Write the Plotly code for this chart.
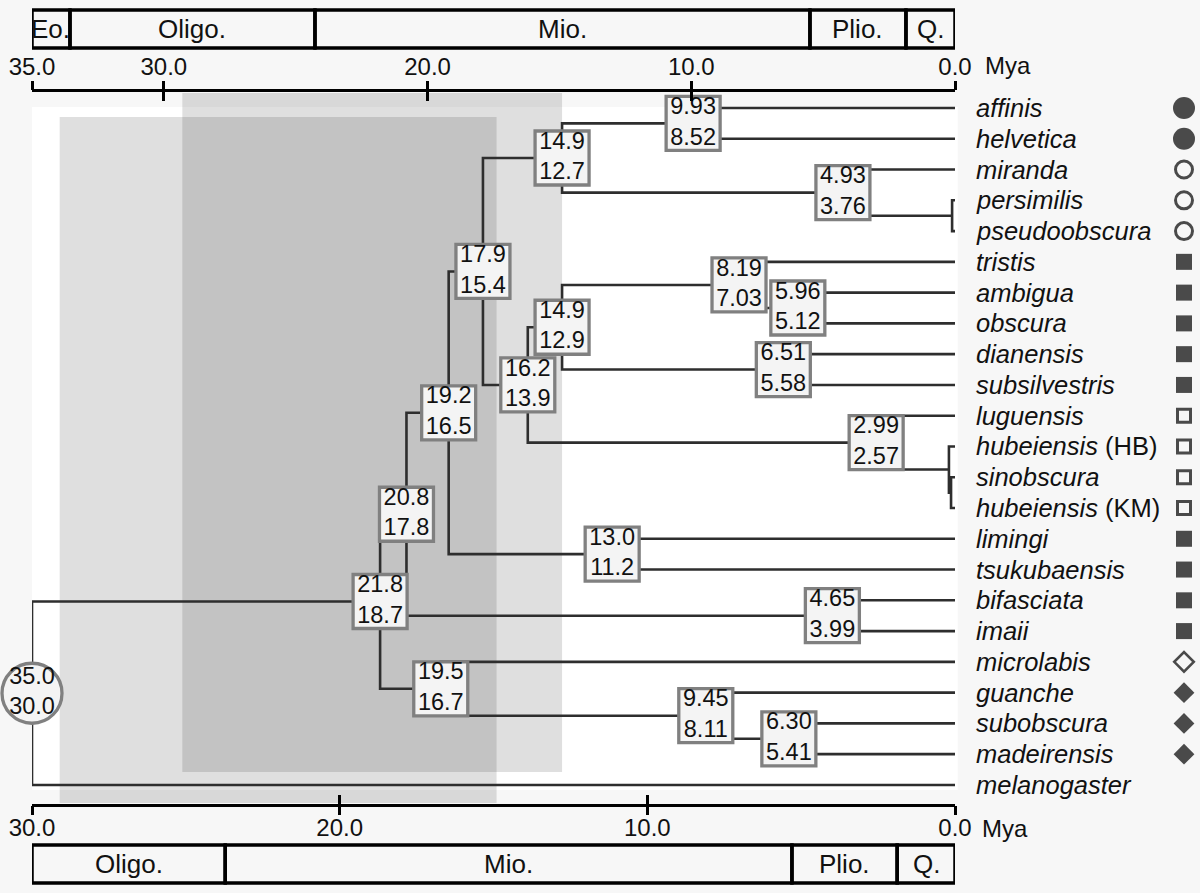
import plotly.graph_objects as go

W, H = 1200, 893

# ---------------- data ----------------
SPECIES = ["affinis", "helvetica", "miranda", "persimilis", "pseudoobscura",
           "tristis", "ambigua", "obscura", "dianensis", "subsilvestris",
           "luguensis", "hubeiensis (HB)", "sinobscura", "hubeiensis (KM)",
           "limingi", "tsukubaensis", "bifasciata", "imaii", "microlabis",
           "guanche", "subobscura", "madeirensis", "melanogaster"]
SPECIES_SYMBOL = ["circle", "circle", "circle-open", "circle-open", "circle-open",
                  "square", "square", "square", "square", "square",
                  "square-open", "square-open", "square-open", "square-open",
                  "square", "square", "square", "square", "diamond-open",
                  "diamond", "diamond", "diamond", ""]

NODE_ID = ["n_aff", "n_pp", "n_mir", "n_pse", "n_amb", "n_tri", "n_dia", "n_obs",
           "n_sk", "n_hub", "n_lug", "n_obl", "n_179", "n_lim", "n_192", "n_bif",
           "n_208", "n_sub", "n_gua", "n_195", "n_218", "root"]
NODE_CHILDREN = [["affinis", "helvetica"], ["persimilis", "pseudoobscura"],
                 ["miranda", "n_pp"], ["n_aff", "n_mir"], ["ambigua", "obscura"],
                 ["tristis", "n_amb"], ["dianensis", "subsilvestris"],
                 ["n_tri", "n_dia"], ["sinobscura", "hubeiensis (KM)"],
                 ["hubeiensis (HB)", "n_sk"], ["luguensis", "n_hub"],
                 ["n_obs", "n_lug"], ["n_pse", "n_obl"], ["limingi", "tsukubaensis"],
                 ["n_179", "n_lim"], ["bifasciata", "imaii"], ["n_192", "n_bif"],
                 ["subobscura", "madeirensis"], ["guanche", "n_sub"],
                 ["microlabis", "n_gua"], ["n_208", "n_195"], ["n_218", "melanogaster"]]
# node ages (Mya) with 35 Mya calibration (top scale) and 30 Mya calibration (bottom scale)
AGE_35 = [9.93, 0.11, 4.93, 14.9, 5.96, 8.19, 6.51, 14.9, 0.15, 0.23, 2.99, 16.2,
          17.9, 13.0, 19.2, 4.65, 20.8, 6.30, 9.45, 19.5, 21.8, 35.0]
AGE_30 = [8.52, None, 3.76, 12.7, 5.12, 7.03, 5.58, 12.9, None, None, 2.57, 13.9,
          15.4, 11.2, 16.5, 3.99, 17.8, 5.41, 8.11, 16.7, 18.7, 30.0]

TOP_TICKS = [35.0, 30.0, 20.0, 10.0, 0.0]
BOT_TICKS = [30.0, 20.0, 10.0, 0.0]

TOP_EPOCHS = ["Eo.", "Oligo.", "Mio.", "Plio.", "Q."]
TOP_BOUNDS = [35.0, 33.56, 24.27, 5.50, 1.86, 0.0]
BOT_EPOCHS = ["Oligo.", "Mio.", "Plio.", "Q."]
BOT_BOUNDS = [30.0, 23.72, 5.30, 1.88, 0.0]

# shaded intervals (Mya): first on top scale, second on bottom scale
SHADE_TOP = [29.3, 14.9]
SHADE_BOT = [29.1, 14.9]

# ---------------- layout constants ----------------
FONT = "Liberation Sans, Arial, sans-serif"
ML = 32
PLOT_W = W - ML
DX = 923 / PLOT_W           # tree axis domain fraction
LEAF0_PX, LEAF_STEP = 108, 30.77
Y_TOP = -LEAF0_PX / LEAF_STEP
Y_BOT = Y_TOP + H / LEAF_STEP


def pfy(px):
    return 1 - px / H


LABEL_NUDGE = {"n_mir": 0.68}

# ---------------- tree geometry ----------------
ypos = {name: i for i, name in enumerate(SPECIES)}
xpos = {name: 0.0 for name in SPECIES}
children = dict(zip(NODE_ID, NODE_CHILDREN))
for nid, age in zip(NODE_ID, AGE_35):
    xpos[nid] = age


def get_y(n):
    if n not in ypos:
        ch = children[n]
        ypos[n] = (get_y(ch[0]) + get_y(ch[-1])) / 2
    return ypos[n]


for nid in NODE_ID:
    get_y(nid)

lx, ly = [], []
for nid in NODE_ID:
    ch = children[nid]
    xn = xpos[nid]
    a, b = ch[0], ch[-1]
    lx += [xpos[a], xn, xn, xpos[b], None]
    ly += [ypos[a], ypos[a], ypos[b], ypos[b], None]
    for c in ch[1:-1]:
        lx += [xn, xpos[c], None]
        ly += [ypos[c], ypos[c], None]


def fmt(v):
    return f"{v:.2f}" if v < 10 else f"{v:.1f}"


boxes = []
root_pt = None
for nid, a35, a30 in zip(NODE_ID, AGE_35, AGE_30):
    if a30 is None:
        continue
    txt = f"{fmt(a35)}<br>{fmt(a30)}"
    if nid == "root":
        root_pt = (a35, ypos[nid], txt)
        continue
    boxes.append((a35 - LABEL_NUDGE.get(nid, 0), ypos[nid], txt))
boxes.sort(key=lambda b: -b[0])   # older boxes first, younger drawn on top
bx = [b[0] for b in boxes]
by = [b[1] for b in boxes]
bt = [b[2] for b in boxes]

fig = go.Figure()

fig.add_trace(go.Scatter(x=lx, y=ly, mode="lines", xaxis="x", yaxis="y",
                         line=dict(color="#2e2e2e", width=2.6),
                         hoverinfo="skip", showlegend=False, cliponaxis=False))

fig.add_trace(go.Scatter(x=bx, y=by, mode="markers+text", text=bt,
                         textposition="middle center",
                         textfont=dict(family=FONT, size=23.5, color="#111"),
                         marker=dict(symbol="square", size=54, color="#f4f4f4",
                                     line=dict(color="#808080", width=3.3)),
                         hoverinfo="skip", showlegend=False, cliponaxis=False))

fig.add_trace(go.Scatter(x=[root_pt[0]], y=[root_pt[1]], mode="markers+text",
                         text=[root_pt[2]], textposition="middle center",
                         textfont=dict(family=FONT, size=23.5, color="#111"),
                         marker=dict(symbol="circle", size=60, color="#f4f4f4",
                                     line=dict(color="#808080", width=3.3)),
                         hoverinfo="skip", showlegend=False, cliponaxis=False))

# species markers
SYM_SIZE = {"circle": 22, "circle-open": 17, "square": 16, "square-open": 13,
            "diamond": 16, "diamond-open": 15}
SYM_LW = {"circle": 0, "circle-open": 3, "square": 0, "square-open": 3,
          "diamond": 0, "diamond-open": 2.6}
mx, my, ms, msz, mlw = [], [], [], [], []
for i, s in enumerate(SPECIES_SYMBOL):
    if not s:
        continue
    mx.append(229)
    my.append(i)
    ms.append(s)
    msz.append(SYM_SIZE[s])
    mlw.append(SYM_LW[s])
fig.add_trace(go.Scatter(x=mx, y=my, mode="markers", xaxis="x5", yaxis="y",
                         marker=dict(symbol=ms, size=msz, color="black",
                                     line=dict(color="black", width=mlw)),
                         hoverinfo="skip", showlegend=False, cliponaxis=False))

# dummy traces so that all overlay axes exist
for ax in ["x2", "x3", "x4"]:
    fig.add_trace(go.Scatter(x=[None], y=[None], xaxis=ax, yaxis="y",
                             mode="markers", showlegend=False, hoverinfo="skip"))

# ---------------- shapes ----------------
shapes = []
shapes.append(dict(type="rect", xref="x domain", yref="paper", x0=0, x1=1.003,
                   y0=pfy(790), y1=pfy(107), fillcolor="white",
                   line=dict(width=0), layer="below"))
shapes.append(dict(type="rect", xref="x", yref="paper", x0=SHADE_TOP[0], x1=SHADE_TOP[1],
                   y0=pfy(772), y1=pfy(93), fillcolor="rgba(0,0,0,0.125)",
                   line=dict(width=0), layer="below"))
shapes.append(dict(type="rect", xref="x2", yref="paper", x0=SHADE_BOT[0], x1=SHADE_BOT[1],
                   y0=pfy(803), y1=pfy(117), fillcolor="rgba(0,0,0,0.125)",
                   line=dict(width=0), layer="below"))

annotations = []
for i, name in enumerate(TOP_EPOCHS):
    a, b = TOP_BOUNDS[i], TOP_BOUNDS[i + 1]
    shapes.append(dict(type="rect", xref="x", yref="paper", x0=a, x1=b,
                       y0=pfy(48), y1=pfy(10), line=dict(color="black", width=3.5),
                       fillcolor="rgba(0,0,0,0)", layer="above"))
    annotations.append(dict(x=(a + b) / 2, y=pfy(29), xref="x", yref="paper",
                            text=name, showarrow=False, xanchor="center",
                            yanchor="middle",
                            font=dict(family=FONT, size=26, color="#111")))
for i, name in enumerate(BOT_EPOCHS):
    a, b = BOT_BOUNDS[i], BOT_BOUNDS[i + 1]
    shapes.append(dict(type="rect", xref="x2", yref="paper", x0=a, x1=b,
                       y0=pfy(883), y1=pfy(845), line=dict(color="black", width=3.5),
                       fillcolor="rgba(0,0,0,0)", layer="above"))
    annotations.append(dict(x=(a + b) / 2, y=pfy(864), xref="x2", yref="paper",
                            text=name, showarrow=False, xanchor="center",
                            yanchor="middle",
                            font=dict(family=FONT, size=26, color="#111")))

# species labels
for i, name in enumerate(SPECIES):
    if " (" in name:
        base, extra = name.split(" (", 1)
        txt = f"<i>{base}</i> ({extra}"
    else:
        txt = f"<i>{name}</i>"
    annotations.append(dict(x=19, y=i, xref="x5", yref="y", text=txt,
                            xanchor="left", yanchor="middle", showarrow=False,
                            font=dict(family=FONT, size=25.5, color="#111")))

# "Mya" unit labels
annotations.append(dict(x=0, y=pfy(66), xref="x", yref="paper", text="Mya",
                        xanchor="left", yanchor="middle", xshift=28, showarrow=False,
                        font=dict(family=FONT, size=24, color="#111")))
annotations.append(dict(x=0, y=pfy(828), xref="x2", yref="paper", text="Mya",
                        xanchor="left", yanchor="middle", xshift=25, showarrow=False,
                        font=dict(family=FONT, size=24, color="#111")))

P_TOP = pfy(90)
P_BOT = pfy(805)
tickfont = dict(family=FONT, size=24, color="#111")
common = dict(showgrid=False, zeroline=False, anchor="free", tickwidth=3,
              tickcolor="black", ticklen=9, fixedrange=True, automargin=False)

fig.update_layout(
    width=W, height=H,
    margin=dict(l=ML, r=0, t=0, b=0, pad=0, autoexpand=False),
    paper_bgcolor="#f7f7f7", plot_bgcolor="#f7f7f7",
    showlegend=False,
    # top scale (35 Mya calibration): labelled axis with ticks pointing down
    xaxis=dict(domain=[0, DX], range=[35, 0], side="top", position=P_TOP,
               showline=True, linecolor="black", linewidth=3, ticks="inside",
               tickmode="array", tickvals=TOP_TICKS, ticklabelstandoff=4,
               ticktext=[f"{v:.1f}" for v in TOP_TICKS], tickfont=tickfont, **common),
    # top scale: tick marks pointing up
    xaxis3=dict(overlaying="x", range=[35, 0], side="top", position=P_TOP,
                showline=False, showticklabels=False, ticks="outside",
                tickmode="array", tickvals=TOP_TICKS, **common),
    # bottom scale (30 Mya calibration): labelled axis with ticks pointing up
    xaxis2=dict(overlaying="x", range=[30, 0], side="bottom", position=P_BOT,
                showline=True, linecolor="black", linewidth=3, ticks="inside",
                tickmode="array", tickvals=BOT_TICKS,
                ticktext=[f"{v:.1f}" for v in BOT_TICKS], tickfont=tickfont, **common),
    # bottom scale: tick marks pointing down
    xaxis4=dict(overlaying="x", range=[30, 0], side="bottom", position=P_BOT,
                showline=False, showticklabels=False, ticks="outside",
                tickmode="array", tickvals=BOT_TICKS, **common),
    xaxis5=dict(domain=[DX, 1], range=[0, W - ML - 923], visible=False,
                anchor="y", fixedrange=True, automargin=False),
    yaxis=dict(domain=[0, 1], range=[Y_BOT, Y_TOP], visible=False, fixedrange=True,
               automargin=False),
    shapes=shapes,
    annotations=annotations,
)

fig.write_html(
    "out.html",
    config={"responsive": False, "displayModeBar": False},
    post_script="document.body.style.margin='0px';document.body.style.overflow='hidden';",
)
